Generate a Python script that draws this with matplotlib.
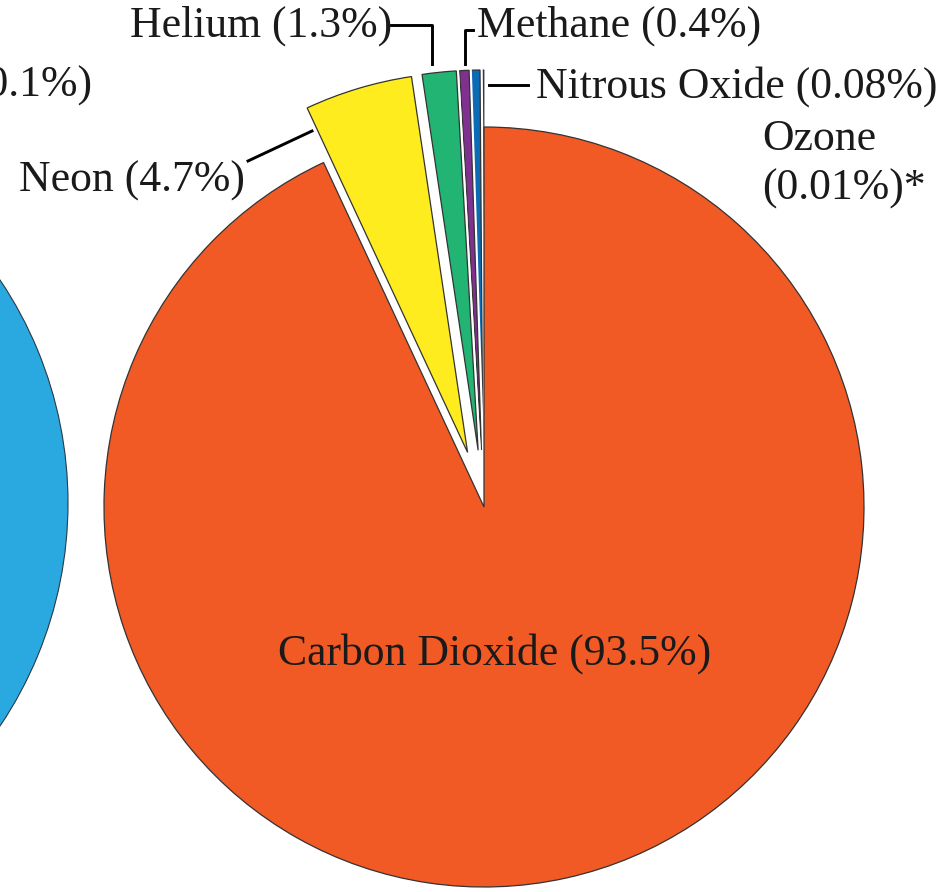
import matplotlib
matplotlib.use("Agg")
import matplotlib.pyplot as plt
import matplotlib.patheffects as pe

# ---- data (percent of atmosphere) ----
gases = ["Carbon Dioxide", "Neon", "Helium", "Methane", "Nitrous Oxide", "Ozone"]
percent = [93.5, 4.7, 1.3, 0.4, 0.08, 0.01]
# angular share as drawn in the picture (tiny gases enlarged to stay visible)
drawn_share = [93.5, 4.6, 1.45, 0.4, 0.4, 0.12]
colors = ["#F15A24", "#FFEC1E", "#22B473", "#80308F", "#0B6CB5", "#1B2A6B"]
explode_frac = [0.0, 0.15, 0.15, 0.15, 0.15, 0.15]
label_text = [f"{g} ({p:g}%)" for g, p in zip(gases, percent)]

W, H = 952, 892
R = 380
fig = plt.figure(figsize=(W / 100, H / 100), dpi=100)
ax = fig.add_axes([0, 0, 1, 1])

def Y(y):  # image row -> axis y
    return H - y

# neighbouring chart (only its big blue slice is visible)
ax.pie([1], colors=["#29A9E0"], radius=400, center=(-332, Y(503)),
       wedgeprops=dict(edgecolor="#2b3a44", linewidth=0.8))

# main pie: counterclockwise from 12 o'clock, smallest first
order = list(range(len(gases)))[::-1]
wedges, _ = ax.pie([drawn_share[i] for i in order],
                   colors=[colors[i] for i in order],
                   explode=[explode_frac[i] * R for i in order],
                   startangle=90, counterclock=True,
                   radius=R, center=(484, Y(507)),
                   wedgeprops=dict(edgecolor="#333333", linewidth=0.9))
# white gap around the small exploded slices
for w, i in zip(wedges, order):
    if explode_frac[i] > 0:
        w.set_path_effects([pe.withStroke(linewidth=4, foreground="white")])

ax.set_xlim(0, W)
ax.set_ylim(0, H)
ax.set_aspect("equal")
ax.axis("off")

font = dict(family=["Liberation Serif", "DejaVu Serif"], fontsize=31.5, color="#1a1a1a")
lw = 2.1

# Carbon dioxide
ax.text(495, Y(665), label_text[0], ha="center", va="baseline", **font)
# Neon
ax.text(19, Y(192), label_text[1], ha="left", va="baseline", **font)
ax.plot([248, 312], [Y(161), Y(131)], color="black", lw=lw)
# Helium
ax.text(130, Y(37), label_text[2], ha="left", va="baseline", **font)
ax.plot([391, 432, 432], [Y(25), Y(25), Y(64)], color="black", lw=lw)
# Methane
ax.text(477, Y(37), label_text[3], ha="left", va="baseline", **font)
ax.plot([473, 465, 465], [Y(30), Y(30), Y(64)], color="black", lw=lw)
# Nitrous oxide
ax.text(536, Y(98), label_text[4], ha="left", va="baseline", **font)
ax.plot([489, 528], [Y(85), Y(85)], color="black", lw=lw)
# Ozone
ax.text(762, Y(150), "Ozone", ha="left", va="baseline", **font)
ax.text(762, Y(200), f"({percent[5]:g}%)*", ha="left", va="baseline", **font)
# label of neighbouring chart, cut by the frame
ax.text(92, Y(97), "(0.1%)", ha="right", va="baseline", **font)

fig.savefig("out.png", dpi=100)
